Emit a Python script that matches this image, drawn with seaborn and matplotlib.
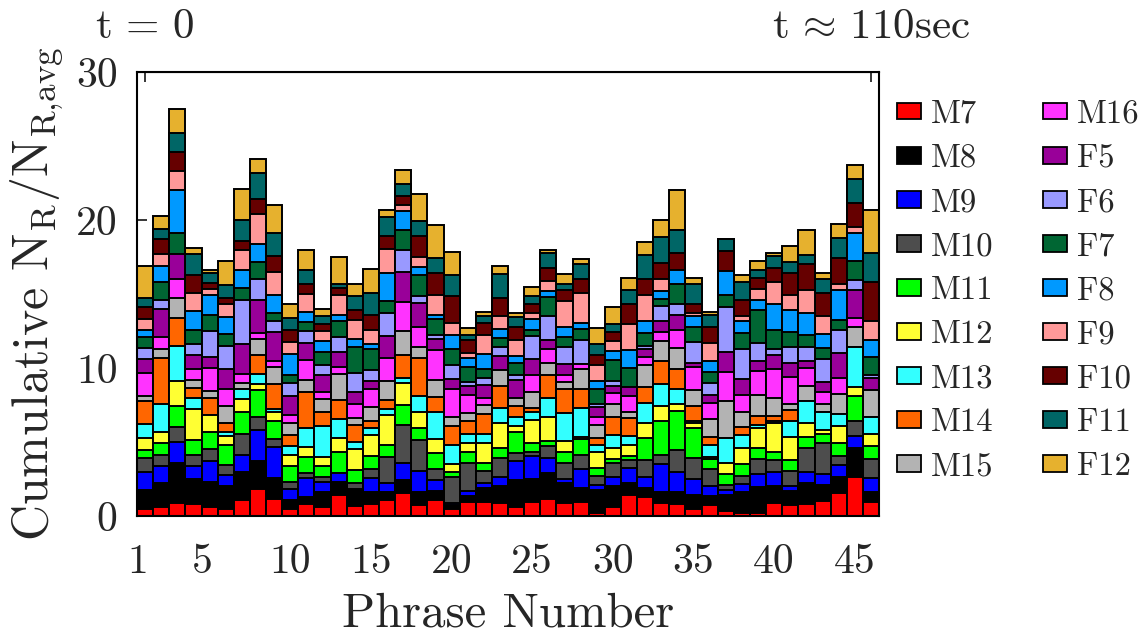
import matplotlib
matplotlib.use("Agg")
import matplotlib.pyplot as plt
import matplotlib.transforms as mtransforms
from matplotlib.patches import Patch
import seaborn as sns

phrases = list(range(1, 47))
speakers = ['M7', 'M8', 'M9', 'M10', 'M11', 'M12', 'M13', 'M14', 'M15',
            'M16', 'F5', 'F6', 'F7', 'F8', 'F9', 'F10', 'F11', 'F12']
colors = ['#ff0000', '#000000', '#0000ff', '#4d4d4d', '#00ff00', '#ffff33',
          '#33ffff', '#ff6600', '#b3b3b3', '#ff33ff', '#990099', '#9999ff',
          '#006633', '#0099ff', '#ff9999', '#660000', '#006666', '#e6b12e']

# cumulative top of each speaker's block for every phrase
m7 = [.45, .63, .86, .8, .6, .5, 1.08, 1.8, 1.13, .5,
      .8, .63, 1.42, .7, .8, 1.08, 1.53, .75, 1.08, .5,
      .97, .97, .9, .6, .97, 1.13, .85, .97, .23, .63,
      1.42, 1.26, .85, .8, .5, .75, .35, .23, .18, .9,
      .75, .8, 1.04, 1.58, 2.62, .97]
m8 = [1.76, 2.2, 3.57, 2.5, 2.3, 2.0, 3.0, 3.7, 2.55, 1.1,
      1.3, 1.65, 2.3, 1.75, 1.65, 1.65, 2.45, 1.6, 1.7, .75,
      1.35, 1.87, 2.0, 2.45, 2.5, 2.9, 2.25, 1.87, 1.75, 2.0,
      2.25, 1.87, 1.6, 1.65, 1.42, 1.35, 1.42, 1.6, 1.95, 2.0,
      1.7, 2.2, 2.1, 2.65, 4.6, 1.65]
m9 = [2.94, 3.4, 5.03, 3.4, 3.7, 2.8, 4.15, 5.8, 4.65, 1.8,
      2.55, 2.3, 2.9, 1.85, 2.55, 2.25, 3.6, 3.05, 2.45, .85,
      1.7, 2.2, 2.65, 3.7, 4.05, 3.9, 2.5, 3.15, 2.1, 2.65,
      3.25, 2.65, 3.5, 2.95, 2.5, 2.0, 1.75, 2.15, 2.85, 2.95,
      2.0, 3.0, 2.85, 3.45, 5.4, 2.55]
m10 = [3.9, 4.1, 6.0, 4.1, 4.5, 3.45, 5.55, 6.7, 5.2, 2.3,
       2.9, 2.65, 2.9, 2.25, 3.15, 4.0, 6.15, 5.15, 3.15, 2.65,
       3.55, 3.05, 3.9, 4.25, 4.3, 4.7, 3.55, 4.15, 2.7, 3.55,
       3.8, 3.8, 4.15, 4.45, 3.9, 3.15, 2.1, 2.7, 3.85, 3.8,
       3.05, 4.6, 4.9, 4.05, 6.4, 3.85]
m11 = [4.47, 4.9, 7.45, 5.15, 5.7, 4.8, 7.05, 8.5, 6.4, 3.4,
       4.0, 3.35, 4.3, 3.1, 4.05, 4.8, 7.5, 5.95, 4.25, 3.0,
       4.35, 3.55, 4.6, 5.65, 4.95, 5.1, 4.35, 5.2, 3.25, 3.85,
       4.05, 5.25, 6.45, 7.1, 5.95, 3.85, 2.85, 3.5, 4.6, 4.35,
       3.75, 5.35, 5.55, 4.9, 8.1, 4.7]
m12 = [5.26, 5.7, 9.1, 7.2, 6.85, 5.4, 7.9, 8.9, 7.05, 4.1,
       4.65, 4.0, 5.25, 4.5, 5.5, 6.85, 9.0, 7.05, 5.2, 3.5,
       4.9, 4.9, 6.3, 6.1, 6.5, 6.7, 5.1, 5.35, 4.3, 4.6,
       4.8, 6.3, 7.45, 7.6, 6.3, 4.0, 3.6, 4.6, 5.95, 6.25,
       5.35, 6.3, 5.8, 6.05, 8.7, 5.55]
m13 = [6.23, 7.6, 11.5, 8.0, 6.85, 5.65, 8.55, 9.6, 7.2, 4.7,
       5.95, 6.05, 6.55, 5.0, 5.95, 7.2, 9.3, 8.1, 7.05, 4.8,
       5.55, 5.55, 7.3, 6.7, 7.0, 7.95, 6.95, 7.3, 4.8, 5.5,
       5.4, 7.65, 8.95, 8.6, 6.4, 4.8, 5.25, 5.5, 6.15, 6.4,
       6.4, 7.75, 7.05, 6.9, 11.45, 6.7]
m14 = [7.74, 10.7, 13.4, 8.65, 8.0, 6.3, 8.6, 10.9, 8.95, 5.5,
       8.4, 7.05, 7.85, 6.15, 6.4, 7.85, 10.85, 10.7, 8.05, 6.1,
       6.4, 6.9, 8.8, 7.45, 7.3, 9.55, 8.6, 8.6, 5.3, 6.7,
       6.6, 8.7, 10.45, 9.9, 7.4, 5.35, 5.25, 6.0, 6.75, 6.75,
       7.15, 7.75, 7.05, 6.9, 11.45, 6.7]
m15 = [8.12, 11.3, 14.7, 9.2, 8.45, 7.4, 9.0, 11.95, 10.1, 6.3,
       9.2, 7.9, 9.6, 6.6, 7.35, 9.15, 12.5, 11.45, 9.2, 6.7,
       6.95, 7.5, 9.85, 7.95, 8.4, 10.35, 9.05, 9.95, 6.15, 7.6,
       7.05, 10.2, 11.8, 11.35, 8.5, 6.55, 7.75, 7.05, 8.2, 8.0,
       7.6, 8.8, 7.6, 8.25, 12.8, 8.5]
m16 = [9.66, 12.1, 16.0, 9.9, 10.0, 8.6, 9.6, 12.35, 10.45, 6.85,
       10.55, 8.4, 10.1, 7.6, 8.6, 10.7, 14.45, 12.8, 11.2, 8.55,
       8.2, 8.0, 9.85, 7.95, 9.5, 11.3, 9.55, 10.25, 6.7, 8.3,
       8.1, 10.75, 12.4, 12.6, 10.05, 7.65, 9.7, 8.2, 9.8, 9.95,
       9.4, 10.0, 8.4, 9.3, 13.4, 8.5]
f5 = [10.6, 14.0, 17.7, 10.9, 10.75, 9.9, 11.65, 14.6, 12.4, 8.1,
      11.7, 9.5, 11.05, 8.35, 9.15, 12.15, 16.5, 14.4, 11.95, 9.25,
      8.75, 8.85, 10.8, 9.2, 10.6, 11.9, 10.3, 10.25, 7.35, 8.8,
      8.7, 11.25, 13.15, 13.6, 10.35, 8.2, 11.1, 9.25, 10.5, 10.9,
      10.35, 10.5, 9.05, 11.0, 15.25, 9.3]
f6 = [11.35, 14.6, 17.7, 11.6, 12.5, 11.5, 14.6, 16.0, 13.2, 9.0,
      12.5, 10.2, 12.1, 9.65, 9.85, 13.7, 17.95, 14.85, 12.2, 10.2,
      9.05, 9.3, 11.4, 9.5, 12.15, 13.5, 11.45, 11.9, 7.6, 9.1,
      8.7, 11.5, 14.2, 14.3, 11.75, 9.0, 14.15, 11.3, 11.7, 11.3,
      11.4, 11.4, 10.6, 12.6, 15.95, 9.55]
f7 = [12.1, 15.8, 19.1, 12.6, 13.55, 12.3, 15.4, 17.15, 13.7, 9.5,
      13.1, 11.1, 13.15, 11.45, 11.3, 14.5, 19.3, 16.3, 13.3, 11.25,
      10.1, 9.95, 12.0, 10.35, 12.6, 14.8, 12.1, 12.65, 8.6, 10.55,
      10.0, 12.35, 14.65, 15.65, 12.8, 9.7, 14.95, 12.35, 13.9, 12.55,
      12.4, 12.2, 11.35, 13.25, 17.2, 10.75]
f8 = [12.6, 16.9, 22.0, 13.85, 14.9, 13.45, 16.65, 18.4, 14.95, 10.95,
      13.75, 11.8, 13.6, 11.95, 11.65, 16.45, 20.6, 16.85, 13.6, 12.25,
      10.7, 10.95, 12.65, 10.8, 13.3, 15.2, 12.8, 13.05, 9.1, 11.15,
      11.2, 13.2, 15.2, 16.65, 13.5, 10.45, 16.55, 13.15, 14.6, 14.35,
      13.95, 13.7, 12.3, 15.25, 19.1, 11.9]
f9 = [13.3, 17.7, 23.3, 15.1, 15.35, 14.3, 17.95, 20.4, 16.5, 11.75,
      15.0, 12.5, 14.95, 13.25, 12.6, 18.05, 21.0, 17.5, 14.9, 13.05,
      11.0, 12.2, 13.5, 11.9, 13.7, 15.85, 14.5, 15.1, 10.2, 11.8,
      13.0, 14.95, 16.0, 16.65, 13.7, 11.7, 16.55, 13.5, 15.35, 15.8,
      14.95, 15.3, 13.5, 15.65, 19.55, 13.2]
f10 = [14.15, 18.7, 24.6, 16.3, 15.75, 14.7, 18.55, 21.4, 17.55, 12.6,
       15.65, 12.95, 15.4, 13.95, 13.55, 18.9, 21.6, 18.95, 16.45, 14.85,
       11.9, 13.05, 14.7, 12.8, 14.3, 16.75, 15.25, 16.0, 10.9, 12.4,
       14.3, 16.0, 17.1, 17.75, 14.35, 12.8, 17.9, 14.6, 16.05, 16.75,
       16.45, 17.0, 15.05, 17.4, 21.15, 15.8]
f11 = [14.75, 19.4, 25.9, 17.7, 16.4, 15.6, 20.0, 23.15, 19.15, 13.4,
       16.65, 13.5, 15.7, 14.85, 15.1, 20.2, 22.4, 19.95, 17.45, 16.25,
       12.2, 13.5, 16.35, 13.45, 14.85, 17.75, 15.7, 17.0, 11.6, 13.0,
       15.25, 17.65, 18.85, 19.35, 15.65, 13.55, 18.7, 15.8, 16.65, 17.55,
       17.15, 17.65, 16.0, 18.8, 22.75, 17.8]
f12 = [16.9, 20.3, 27.5, 18.1, 16.6, 17.2, 22.1, 24.15, 21.0, 14.3,
       18.0, 14.0, 17.5, 15.7, 16.7, 20.7, 23.4, 21.75, 19.65, 17.85,
       12.7, 13.8, 16.9, 13.7, 15.5, 18.0, 16.35, 17.35, 12.7, 14.1,
       16.05, 18.5, 20.0, 22.0, 16.05, 13.8, 18.7, 16.3, 17.2, 17.8,
       18.25, 19.3, 16.45, 19.75, 23.7, 20.65]
cum_tops = [m7, m8, m9, m10, m11, m12, m13, m14, m15, m16,
            f5, f6, f7, f8, f9, f10, f11, f12]

tick_vals = [1, 5, 10, 15, 20, 25, 30, 35, 40, 45]

sns.set_style('ticks')
plt.rcParams['font.family'] = ['cmr10', 'DejaVu Serif']
plt.rcParams['mathtext.fontset'] = 'cm'
plt.rcParams['axes.unicode_minus'] = False

fig = plt.figure(figsize=(11.39, 6.36), dpi=100)
ax = fig.add_axes([0.1203, 0.1887, 0.6515, 0.6981])

# tallest layer first, every lower layer is drawn over it -> stacked look
for name, col, tops in reversed(list(zip(speakers, colors, cum_tops))):
    sns.barplot(x=phrases, y=tops, color=col, saturation=1, width=1,
                edgecolor='black', linewidth=1.4, errorbar=None, ax=ax)

ax.set_xlim(-0.5, len(phrases) - 0.5)
ax.set_ylim(0, 30)
ax.set_yticks([0, 10, 20, 30])
tick_pos = [v - 1 for v in tick_vals]
tick_pos[0] = -0.45
tick_pos[1] = 3.55
ax.set_xticks(tick_pos)
ax.set_xticklabels([str(v) for v in tick_vals])
ax.set_axisbelow(True)
ax.tick_params(axis='x', direction='in', length=7, width=1.3, pad=20, labelsize=30)
ax.tick_params(axis='y', direction='in', length=7, width=1.3, pad=14, labelsize=30)
for sp in ax.spines.values():
    sp.set_visible(True)
    sp.set_linewidth(1.5)
    sp.set_color('black')

secax = ax.secondary_xaxis('top')
secax.set_xticks([0, len(phrases) - 1], labels=['', ''])
secax.tick_params(direction='in', length=7, width=1.3)

ax.set_xlabel('Phrase Number', fontsize=35, labelpad=8)
ax.set_ylabel(r'Cumulative $\mathrm{N_R/N_{R{,}avg}}$', fontsize=36, labelpad=7)

trans = mtransforms.blended_transform_factory(ax.transData, ax.transAxes)
ax.text(0, 1.10, r'$\mathrm{t}\, =\, 0$', transform=trans, ha='center', va='center', fontsize=31)
ax.text(len(phrases) - 1, 1.10, r'$\mathrm{t}\, \approx\, 110\mathrm{sec}$', transform=trans,
        ha='center', va='center', fontsize=31)

handles = [Patch(facecolor=c, edgecolor='black', linewidth=1.3, label=s)
           for s, c in zip(speakers, colors)]
fig.legend(handles=handles, loc='upper left', bbox_to_anchor=(0.7875, 0.843),
           ncol=2, frameon=False, fontsize=23.5, borderpad=0, borderaxespad=0,
           handlelength=0.75, handleheight=0.4, handletextpad=0.3,
           labelspacing=0.46, columnspacing=1.5)

fig.savefig('out.png', dpi=100)
